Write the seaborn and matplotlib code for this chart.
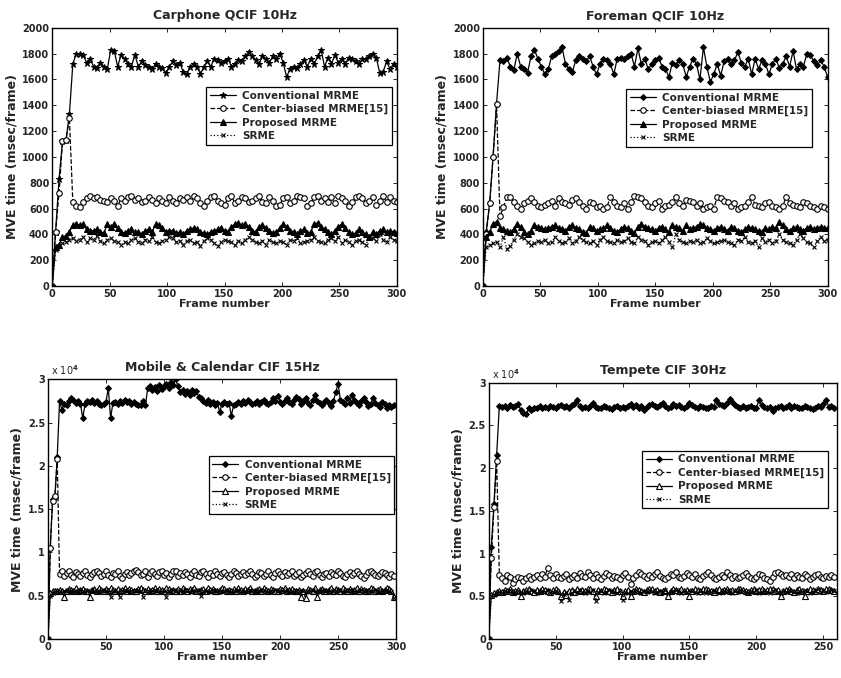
import numpy as np
import matplotlib
matplotlib.use("Agg")
import matplotlib.pyplot as plt
import seaborn as sns
from matplotlib.ticker import FuncFormatter, MultipleLocator

# ---------------- data ----------------
titles = ["Carphone QCIF 10Hz", "Foreman QCIF 10Hz", "Mobile & Calendar CIF 15Hz", "Tempete CIF 30Hz"]
series_names = ["Conventional MRME", "Center-biased MRME[15]", "Proposed MRME", "SRME"]
frame_steps = [3, 3, 2, 2]

conv_cp = [0, 420, 830, 1120, 1130, 1330, 1720, 1800, 1800, 1790, 1730, 1760, 1700, 1690, 1730, 1700, 1680, 1830, 1820, 1700,
           1790, 1760, 1720, 1700, 1790, 1700, 1740, 1710, 1700, 1680, 1720, 1700, 1690, 1650, 1700, 1740, 1710, 1730, 1660, 1640,
           1700, 1720, 1700, 1640, 1700, 1740, 1700, 1760, 1750, 1730, 1740, 1760, 1700, 1720, 1750, 1740, 1780, 1810, 1780, 1750,
           1720, 1780, 1760, 1730, 1780, 1760, 1800, 1730, 1620, 1680, 1700, 1690, 1720, 1750, 1700, 1760, 1720, 1780, 1830, 1700,
           1770, 1720, 1790, 1730, 1760, 1720, 1770, 1760, 1740, 1720, 1760, 1760, 1780, 1800, 1770, 1650, 1660, 1740, 1680, 1720, 1700]
cb_cp = [0, 420, 720, 1120, 1130, 1300, 650, 620, 610, 650, 680, 700, 680, 690, 670, 660, 650, 680, 660, 620,
         680, 660, 690, 700, 670, 680, 650, 660, 690, 670, 640, 680, 660, 640, 690, 660, 640, 680, 670, 690,
         660, 700, 680, 640, 620, 660, 690, 700, 660, 640, 630, 680, 700, 640, 660, 690, 680, 650, 660, 680,
         700, 650, 640, 690, 660, 620, 630, 680, 690, 640, 660, 700, 690, 680, 620, 640, 690, 700, 660, 680,
         650, 690, 640, 700, 680, 660, 620, 650, 690, 700, 680, 640, 660, 690, 630, 660, 700, 650, 690, 660, 650]
prop_cp = [0, 300, 320, 380, 390, 420, 470, 480, 470, 480, 440, 430, 430, 440, 420, 410, 480, 460, 480, 450,
           420, 410, 430, 440, 420, 420, 400, 430, 440, 420, 480, 470, 450, 420, 430, 430, 410, 420, 400, 430,
           440, 450, 440, 420, 410, 400, 420, 430, 440, 450, 430, 420, 460, 480, 490, 470, 480, 460, 430, 420,
           460, 470, 450, 430, 410, 420, 450, 480, 460, 430, 420, 400, 430, 440, 410, 420, 480, 490, 460, 440,
           420, 400, 430, 460, 480, 450, 420, 400, 410, 440, 420, 400, 380, 420, 400, 430, 440, 420, 430, 420, 410]
srme_cp = [0, 280, 310, 330, 340, 360, 370, 350, 360, 380, 340, 370, 360, 390, 350, 330, 360, 370, 350, 340,
           320, 340, 330, 360, 370, 340, 330, 360, 350, 380, 340, 330, 350, 360, 380, 370, 340, 350, 320, 350,
           360, 330, 340, 310, 350, 370, 360, 330, 310, 340, 360, 350, 340, 320, 350, 330, 360, 380, 360, 340,
           330, 350, 320, 360, 340, 330, 350, 340, 320, 360, 350, 370, 330, 340, 350, 360, 380, 350, 340, 330,
           360, 370, 350, 380, 330, 360, 340, 320, 350, 360, 340, 320, 380, 370, 350, 400, 360, 340, 380, 360, 350]

conv_fm = [0, 420, 640, 1000, 1410, 1750, 1740, 1770, 1700, 1670, 1800, 1700, 1680, 1650, 1780, 1830, 1760, 1700, 1640, 1680,
           1780, 1800, 1820, 1850, 1720, 1680, 1660, 1750, 1780, 1760, 1740, 1780, 1700, 1640, 1720, 1760, 1750, 1720, 1640, 1760,
           1770, 1760, 1780, 1800, 1700, 1840, 1720, 1760, 1680, 1720, 1750, 1770, 1700, 1680, 1620, 1730, 1710, 1750, 1720, 1620,
           1700, 1760, 1720, 1600, 1850, 1700, 1580, 1640, 1720, 1630, 1740, 1760, 1720, 1750, 1810, 1730, 1700, 1760, 1640, 1760,
           1680, 1750, 1720, 1640, 1720, 1760, 1690, 1720, 1780, 1700, 1820, 1680, 1720, 1700, 1800, 1790, 1740, 1710, 1750, 1700, 1620]
cb_fm = [0, 400, 640, 1000, 1410, 540, 610, 690, 690, 650, 620, 600, 640, 660, 680, 650, 620, 610, 630, 640,
         660, 620, 680, 650, 640, 630, 670, 680, 650, 620, 600, 650, 640, 610, 620, 600, 610, 690, 650, 620,
         610, 640, 600, 650, 700, 690, 680, 650, 620, 610, 640, 660, 600, 620, 630, 650, 690, 640, 620, 670,
         660, 650, 620, 640, 600, 610, 620, 600, 690, 680, 660, 650, 620, 640, 600, 610, 620, 650, 690, 630,
         620, 610, 640, 650, 620, 610, 600, 620, 690, 640, 630, 620, 610, 650, 640, 620, 610, 600, 620, 610, 600]
prop_fm = [0, 380, 420, 480, 500, 450, 440, 430, 420, 440, 480, 460, 420, 400, 430, 470, 460, 450, 440, 450,
           460, 470, 450, 440, 430, 460, 470, 450, 440, 420, 410, 460, 450, 430, 440, 450, 470, 450, 430, 420,
           440, 460, 450, 430, 410, 460, 480, 460, 450, 440, 430, 450, 460, 440, 420, 470, 460, 450, 430, 470,
           440, 450, 460, 480, 470, 450, 440, 430, 450, 460, 440, 430, 460, 450, 430, 420, 440, 460, 450, 440,
           430, 420, 450, 440, 460, 450, 500, 470, 440, 430, 450, 460, 440, 430, 450, 460, 440, 450, 460, 450, 450]
srme_fm = [0, 300, 320, 330, 340, 300, 380, 290, 310, 360, 400, 380, 370, 340, 320, 330, 350, 340, 360, 330,
           340, 380, 350, 330, 340, 370, 330, 350, 380, 360, 340, 330, 350, 320, 360, 380, 350, 340, 330, 360,
           340, 350, 370, 340, 330, 380, 360, 350, 320, 340, 350, 330, 360, 380, 340, 300, 400, 360, 340, 330,
           350, 340, 360, 330, 340, 370, 350, 330, 340, 350, 360, 340, 330, 320, 360, 350, 380, 340, 330, 350,
           300, 370, 340, 360, 330, 350, 400, 360, 340, 330, 320, 360, 400, 370, 340, 330, 300, 350, 380, 350, 360]

conv_mc = [0, 10500, 16200, 16400, 21000, 27500,
           26500, 27200, 27000, 27500, 27800, 27600, 27300, 27500, 27200,
           25500,
           27200, 27500, 27400, 27600, 27300, 27500, 27200, 27000, 27100, 27400,
           29000, 25500, 27300,
           27400, 27200, 27500, 27300, 27600, 27400, 27500, 27200, 27400, 27100, 27000, 27000, 27500, 27000,
           29000, 29200, 28800, 29100, 28700, 29300, 28900, 29200, 29500, 29000, 29700, 29400, 30000, 29200, 28500, 28800,
           28300, 28600, 28200, 28800, 28400, 28600, 28000, 27800,
           27500, 27300, 27600, 27200, 27400, 27000, 27300, 26200, 27200, 27400, 27100, 27300, 25800, 27000,
           27200, 27400, 27100, 27500, 27300, 27600, 27400, 27100, 27300, 27500, 27200, 27400, 27600, 27300, 27100, 27400,
           27800, 27500, 28100, 27400,
           27200, 27500, 27800, 27400, 27100, 27600, 28000, 27700, 27200, 27500, 27800, 27300, 27000, 27600, 28200, 27500,
           27300, 27000, 27400, 27600, 27300, 26900, 27500, 28500,
           29500, 27600, 27400, 27200, 27800, 27300, 28200, 27600, 27300, 27000, 27500, 27900, 27400, 26900, 27200, 27800,
           27300, 27000, 26800, 27400, 27100, 26700, 27000, 26800, 27000]
cb_mc = [0, 10500, 16000, 16500, 20800, 7500, 7800, 7300, 7600, 7900, 7400, 7200, 7700, 7500, 7300, 7600, 7800, 7400, 7200, 7500,
         7700, 7900, 7600, 7300, 7500, 7800, 7400, 7200, 7600, 7500, 7800, 7300, 7100, 7500, 7700, 7400, 7600, 7900, 8000, 7700,
         7400, 7500, 7800, 7200, 7600, 7900, 7500, 7300, 7700, 7800, 7400, 7600, 7200, 7500, 7800, 7900, 7300, 7600, 7400, 7700,
         7500, 7200, 7600, 7800, 7400, 7300, 7700, 7900, 7500, 7200, 7600, 7400, 7800, 7500, 7300, 7600, 7700, 7400, 7200, 7500,
         7800, 7600, 7300, 7500, 7700, 7400, 7600, 7800, 7500, 7200, 7400, 7700, 7600, 7300, 7500, 7800, 7400, 7200, 7600, 7900,
         7500, 7300, 7700, 7400, 7600, 7800, 7300, 7500, 7700, 7200, 7400, 7600, 7900, 7500, 7300, 7700, 7800, 7400, 7200, 7500,
         7600, 7300, 7700, 7500, 7400, 7800, 7600, 7300, 7200, 7500, 7700, 7400, 7600, 7800, 7500, 7300, 7100, 7400, 7700, 7900,
         7600, 7400, 7300, 7500, 7700, 7600, 7400, 7200, 7500, 7300]
prop_mc = [0, 5300, 5500, 5600, 5500, 5700, 5600, 4800, 5600, 5800, 5700, 5500, 5900, 5600, 5700, 5800, 5500, 5600, 4900, 5700,
           5800, 5600, 5900, 5700, 5500, 5800, 5600, 5900, 5700, 5600, 5800, 5500, 5700, 5900, 5600, 5800, 5700, 5500, 5600, 5800,
           5900, 5700, 5600, 5800, 5500, 5700, 5900, 5600, 5800, 5700, 5600, 5900, 5800, 5600, 5700, 5500, 5800, 5600, 5900, 5700,
           5600, 5800, 5700, 5900, 5600, 5500, 5700, 5800, 5600, 5900, 5700, 5800, 5600, 5500, 5700, 5900, 5800, 5600, 5700, 5500,
           5800, 5600, 5900, 5700, 5600, 5800, 5700, 5900, 5600, 5500, 5700, 5800, 5600, 5900, 5700, 5600, 5800, 5700, 5500, 5600,
           5800, 5700, 5900, 5600, 5700, 5800, 5600, 5500, 5700, 4800, 5600, 4700, 5800, 5700, 5600, 5900, 4800, 5700, 5800, 5600,
           5500, 5700, 5900, 5600, 5800, 5700, 5600, 5900, 5700, 5500, 5800, 5600, 5700, 5900, 5600, 5800, 5700, 5500, 5600, 5900,
           5800, 5600, 5700, 5800, 5600, 5700, 5900, 5800, 5600, 4900]
srme_mc = [0, 5000, 5300, 5400, 5500, 5600, 5400, 5500, 5700, 5600, 5500, 5400, 5600, 5500, 5700, 5600, 5400, 5500, 5600, 5700,
           5500, 5400, 5600, 5500, 5700, 5600, 5400, 4900, 5500, 5600, 5400, 4900, 5500, 5700, 5600, 5400, 5500, 5600, 5500, 5700,
           5600, 4900, 5500, 5600, 5400, 5500, 5700, 5600, 5500, 5400, 5600, 4900, 5500, 5600, 5700, 5500, 5400, 5600, 5500, 5700,
           5600, 5400, 5500, 5600, 5500, 5700, 5000, 5500, 5600, 5400, 5500, 5700, 5600, 5500, 5400, 5600, 5500, 5700, 5600, 5400,
           5500, 5600, 5700, 5500, 5400, 5600, 5500, 5700, 5600, 5500, 5400, 5600, 5500, 5700, 5600, 5400, 5500, 5600, 5700, 5500,
           5400, 5600, 5500, 5700, 5600, 5500, 5400, 5600, 5500, 5700, 5600, 5400, 5500, 5600, 5700, 5500, 5400, 5600, 5500, 5700,
           5600, 5500, 5400, 5600, 5500, 5700, 5600, 5400, 5500, 5600, 5700, 5500, 5400, 5600, 5500, 5700, 5600, 5500, 5400, 5600,
           5500, 5700, 5600, 5400, 5500, 5600, 5700, 5500, 5400, 4700]

conv_tp = [0, 10800, 15800, 21500, 27300, 27200, 27300, 27100, 27400, 27200, 27300, 27500, 26800, 26500, 26300, 27000, 26800, 27100,
           27000, 27300, 27100, 27200, 27000, 27300, 27200, 27100, 27300, 27400, 27200, 27300, 27100, 27400, 27500, 28000, 27300, 27100,
           27200, 27000, 27300, 27600, 27200, 27100, 27000, 27300, 27200, 27100, 26900, 27200, 27300, 27000, 27200, 27100, 27300, 27500,
           27200, 27400, 27000, 27300, 26800, 27200, 27400, 27500, 27300, 27200, 27400, 27600, 27300, 27100, 27200, 27500, 27300, 27400,
           27200, 27000, 27300, 27600, 27400, 27200, 27100, 27300, 27200, 27000, 27100, 27300, 27200, 28000, 27500, 27400, 27300, 27600,
           28100, 27700, 27400, 27200, 27000, 27300, 27100, 27200, 27300, 27000, 27100, 28000, 27400, 27200, 27000, 27200, 26700, 27100,
           27200, 27300, 27000, 27200, 27400, 27100, 27300, 27200, 27000, 27100, 27300, 27200, 27000, 26900, 27100, 27300, 27200, 27500,
           28000, 27200, 27300, 27100]
cb_tp = [0, 9500, 15500, 20800, 7500, 7200, 6800, 7500, 7300, 6500, 7000, 7300, 7100, 6800, 7200, 7400, 7000, 7300, 7500, 7200,
         7600, 7300, 8300, 7500, 7100, 7600, 7300, 7200, 7400, 7600, 7000, 7300, 7500, 7200, 7700, 7400, 7300, 7800, 7500, 7200,
         7600, 7300, 7000, 7400, 7700, 7500, 7200, 7400, 7300, 7000, 7500, 7700, 7300, 6400, 7200, 7500, 7800, 7600, 7400, 7200,
         7500, 7300, 7600, 7800, 7400, 7200, 7000, 7300, 7600, 7500, 7800, 7300, 7100, 7400, 7700, 7500, 7300, 7600, 7200, 7000,
         7400, 7600, 7800, 7500, 7200, 7000, 7300, 7500, 7300, 7800, 7500, 7200, 7400, 7100, 7300, 7500, 7700, 7400, 7200, 7000,
         7300, 7600, 7500, 7200, 7000, 6800, 7300, 7700, 7800, 7600, 7400, 7500, 7300, 7600, 7200, 7500, 7300, 7200, 7600, 7400,
         7000, 7300, 7500, 7600, 7300, 7200, 7400, 7300, 7500, 7300]
prop_tp = [0, 5200, 5400, 5500, 5600, 5500, 5700, 5600, 5800, 5500, 5600, 5700, 5000, 5600, 5700, 5800, 5600, 5500, 5700, 5600,
           5800, 5700, 5600, 5500, 5700, 5800, 5600, 5000, 5500, 5100, 5600, 5700, 5500, 5800, 5600, 5700, 5600, 5900, 5800, 5600,
           5000, 5700, 5600, 5800, 5700, 5600, 5500, 5700, 5800, 5600, 5000, 5600, 5700, 5000, 5600, 5800, 5700, 5600, 5500, 5700,
           5900, 5800, 5600, 5700, 5500, 5600, 5700, 5000, 5600, 5800, 5700, 5600, 5800, 5600, 5700, 5000, 5600, 5800, 5700, 5600,
           5900, 5800, 5700, 5600, 5500, 5700, 5800, 5600, 5700, 5800, 5600, 5700, 5600, 5900, 5800, 5700, 5600, 5500, 5700, 5800,
           5600, 5700, 5800, 5600, 5700, 5900, 5800, 5600, 5700, 5000, 5600, 5700, 5800, 5600, 5500, 5700, 5800, 5600, 5000, 5600,
           5800, 5700, 5600, 5800, 5700, 5600, 5800, 5900, 5700, 5600]
srme_tp = [0, 5000, 5200, 5400, 5500, 5400, 5600, 5500, 5700, 5400, 5500, 5600, 5500, 5400, 5600, 5500, 5700, 5600, 5400, 5500,
           5600, 5500, 5700, 5400, 5500, 5600, 5500, 4500, 5300, 5500, 4600, 5400, 5600, 5500, 5700, 5500, 5400, 5600, 5500, 5700,
           4500, 5500, 5600, 5400, 5500, 5700, 5600, 5500, 5400, 5600, 4600, 5500, 5400, 5600, 5500, 5700, 5500, 5400, 5600, 5500,
           5700, 5600, 5400, 5500, 5600, 5500, 5700, 5400, 5500, 5600, 5700, 5500, 5400, 5600, 5500, 5700, 5600, 5500, 5400, 5600,
           5500, 5400, 5600, 5500, 5700, 5600, 5400, 5500, 5600, 5700, 5500, 5400, 5600, 5500, 5700, 5600, 5500, 5400, 5600, 5500,
           5700, 5400, 5500, 5600, 5500, 5400, 5600, 5700, 5500, 5400, 5600, 5500, 5700, 5600, 5500, 5400, 5600, 5500, 5700, 5600,
           5400, 5500, 5600, 5800, 5500, 5600, 5500, 5600, 5700, 5600]

panel_data = [
    [conv_cp, cb_cp, prop_cp, srme_cp],
    [conv_fm, cb_fm, prop_fm, srme_fm],
    [conv_mc, cb_mc, prop_mc, srme_mc],
    [conv_tp, cb_tp, prop_tp, srme_tp],
]

# ---------------- style ----------------
sns.set_style("ticks")
plt.rcParams['font.family'] = ['DejaVu Sans']
plt.rcParams['font.weight'] = 'bold'
plt.rcParams['axes.labelweight'] = 'bold'
plt.rcParams['axes.titleweight'] = 'bold'
plt.rcParams['xtick.direction'] = 'in'
plt.rcParams['ytick.direction'] = 'in'
plt.rcParams['axes.linewidth'] = 1.0
plt.rcParams['axes.edgecolor'] = 'black'

fig = plt.figure(figsize=(8.41, 6.78), dpi=100)
axes_rects = [
    [0.062, 0.578, 0.410, 0.381],
    [0.574, 0.578, 0.410, 0.381],
    [0.057, 0.0575, 0.414, 0.383],
    [0.581, 0.0575, 0.414, 0.378],
]
xlims = [300, 300, 300, 260]
ylims = [2000, 2000, 30000, 30000]
conv_markers = ['*', 'D', 'D', 'D']
prop_fill = ['k', 'k', 'white', 'white']
legend_anchor = [(0.986, 0.771), (0.955, 0.763), (0.995, 0.705), (0.975, 0.735)]

for i in range(4):
    ax = fig.add_axes(axes_rects[i])
    step = frame_steps[i]
    conv, cb, prop, srme = panel_data[i]
    styles = [
        dict(linestyle='-', marker=conv_markers[i], ms=4.5 if conv_markers[i] == '*' else 3, mfc='k', mec='k'),
        dict(linestyle='--', marker='o', ms=4, mfc='white', mec='k', mew=0.8),
        dict(linestyle='-', marker='^', ms=4, mfc=prop_fill[i], mec='k', mew=0.8),
        dict(linestyle=':', marker='x', ms=3.5, mec='k', mew=0.8),
    ]
    for vals, name, st in zip([conv, cb, prop, srme], series_names, styles):
        x = np.arange(len(vals)) * step
        sns.lineplot(x=x, y=np.array(vals, dtype=float), ax=ax, color='k', lw=0.9,
                     label=name, estimator=None, sort=False, **st)
    ax.set_xlim(0, xlims[i])
    ax.set_ylim(0, ylims[i])
    ax.xaxis.set_major_locator(MultipleLocator(50))
    if ylims[i] == 2000:
        ax.yaxis.set_major_locator(MultipleLocator(200))
    else:
        ax.yaxis.set_major_locator(MultipleLocator(5000))
        ax.yaxis.set_major_formatter(FuncFormatter(lambda v, p: f"{v/1e4:g}"))
        ax.text(0.01, 1.008, r"x 10$^4$", transform=ax.transAxes, fontsize=7,
                ha='left', va='bottom', fontweight='normal')
    ax.tick_params(top=True, right=True, labelsize=7, length=3, width=0.7, pad=2)
    for lab in ax.get_xticklabels() + ax.get_yticklabels():
        lab.set_fontweight('bold')
    ax.set_title(titles[i], fontsize=9, fontweight='bold', pad=6)
    ax.set_xlabel("Frame number", fontsize=8, labelpad=0)
    ax.set_ylabel("MVE time (msec/frame)", fontsize=9, labelpad=3)
    leg = ax.legend(loc='upper right', bbox_to_anchor=legend_anchor[i], fontsize=7.5,
                    frameon=True, fancybox=False, framealpha=1, edgecolor='k',
                    handlelength=2.5, labelspacing=0.32, borderpad=0.35, handletextpad=0.6,
                    borderaxespad=0)
    leg.get_frame().set_linewidth(0.9)
    for t in leg.get_texts():
        t.set_fontweight('bold')
    for sp in ax.spines.values():
        sp.set_visible(True)

fig.savefig("out.png", dpi=100)
